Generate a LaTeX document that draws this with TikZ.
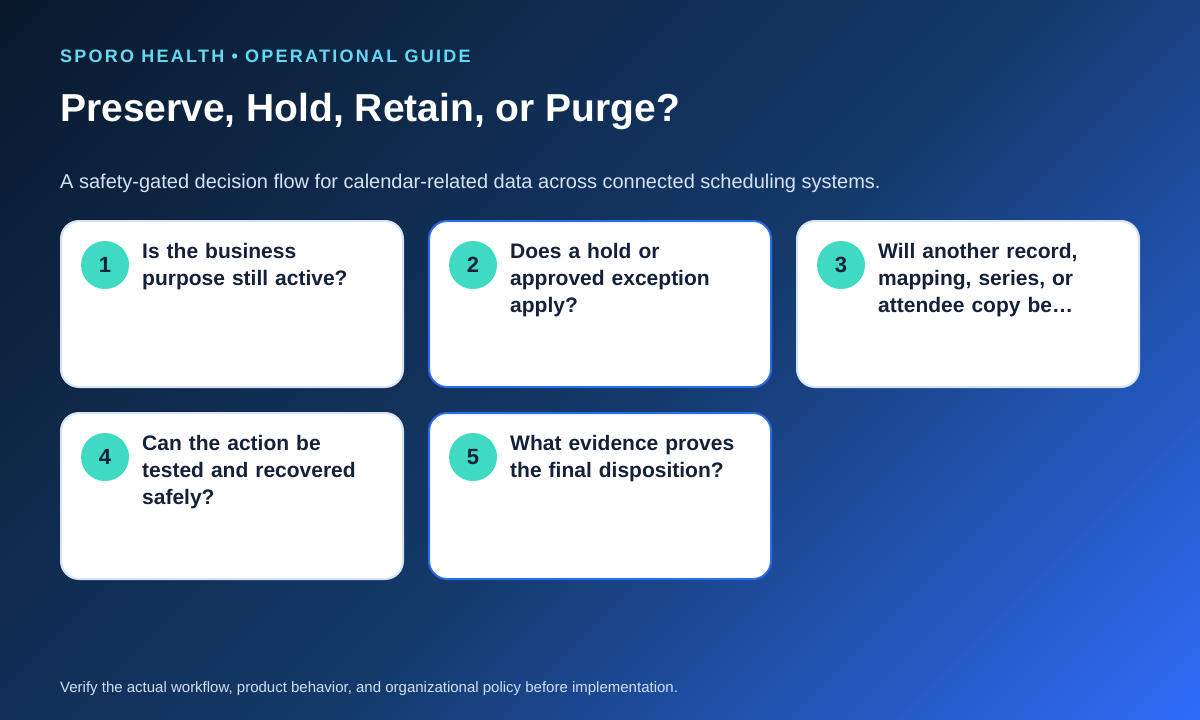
\documentclass[tikz,border=0pt]{standalone}
\usepackage{fontspec}
\setmainfont{Liberation Sans}
\newfontfamily\eyebrowfont[LetterSpace=12.5]{Liberation Sans}
\definecolor{bgA}{HTML}{0A192C}
\definecolor{bgB}{HTML}{143A6B}
\definecolor{bgC}{HTML}{2F6CF8}
\definecolor{eyebrow}{HTML}{66D9F0}
\definecolor{subtxt}{HTML}{D6E3F4}
\definecolor{foottxt}{HTML}{D2DFF1}
\definecolor{cardline}{HTML}{D6E4F0}
\definecolor{cardblue}{HTML}{2D6CF0}
\definecolor{teal}{HTML}{40D9C4}
\definecolor{ink}{HTML}{13213A}
\pgfdeclarehorizontalshading{bgshade}{100bp}{color(0bp)=(bgA); color(14.64bp)=(bgA); color(53.5bp)=(bgB); color(85.36bp)=(bgC); color(100bp)=(bgC)}
\tikzset{
  card/.style={draw=cardline, line width=2pt, fill=white, rounded corners=18pt,
    minimum width=342pt, minimum height=166pt, inner sep=0pt},
  cardhi/.style={card, draw=cardblue},
  numdot/.style={circle, fill=teal, minimum size=48pt, inner sep=0pt,
    text=ink, font=\fontsize{22}{26}\selectfont\bfseries},
  question/.style={anchor=base west, inner sep=0pt, text width=255pt, align=left,
    text=ink, font=\fontsize{21}{27}\selectfont\bfseries},
}
\begin{document}
\begin{tikzpicture}[x=1pt,y=-1pt]
\useasboundingbox (0,0) rectangle (1200,720);
\shade[shading=bgshade, shading angle=-45] (0,0) rectangle (1200,720);

\node[anchor=base west, inner sep=0pt, text=eyebrow, font=\fontsize{18}{22}\selectfont\eyebrowfont\bfseries]
  (eyebrow) at (60,62) {SPORO HEALTH • OPERATIONAL GUIDE};
\node[anchor=base west, inner sep=0pt, text=white, font=\fontsize{39}{46}\selectfont\bfseries]
  (title) at (60,121) {Preserve, Hold, Retain, or Purge?};
\node[anchor=base west, inner sep=0pt, text=subtxt, font=\fontsize{20}{24}\selectfont]
  (subtitle) at (60,188) {A safety-gated decision flow for calendar-related data across connected scheduling systems.};

% row 1
\node[card]   (c1) at (232,304) {};
\node[cardhi] (c2) at (600,304) {};
\node[card]   (c3) at (968,304) {};
% row 2
\node[card]   (c4) at (232,496) {};
\node[cardhi] (c5) at (600,496) {};

\node[numdot] (n1) at (105,265) {1};
\node[numdot] (n2) at (473,265) {2};
\node[numdot] (n3) at (841,265) {3};
\node[numdot] (n4) at (105,457) {4};
\node[numdot] (n5) at (473,457) {5};

\node[question] (q1) at (142,258) {Is the business\\purpose still active?};
\node[question] (q2) at (510,258) {Does a hold or\\approved exception\\apply?};
\node[question] (q3) at (878,258) {Will another record,\\mapping, series, or\\attendee copy be…};
\node[question] (q4) at (142,450) {Can the action be\\tested and recovered\\safely?};
\node[question] (q5) at (510,450) {What evidence proves\\the final disposition?};

\node[anchor=base west, inner sep=0pt, text=foottxt, font=\fontsize{15}{18}\selectfont]
  (footer) at (60,692) {Verify the actual workflow, product behavior, and organizational policy before implementation.};
\end{tikzpicture}
\end{document}
